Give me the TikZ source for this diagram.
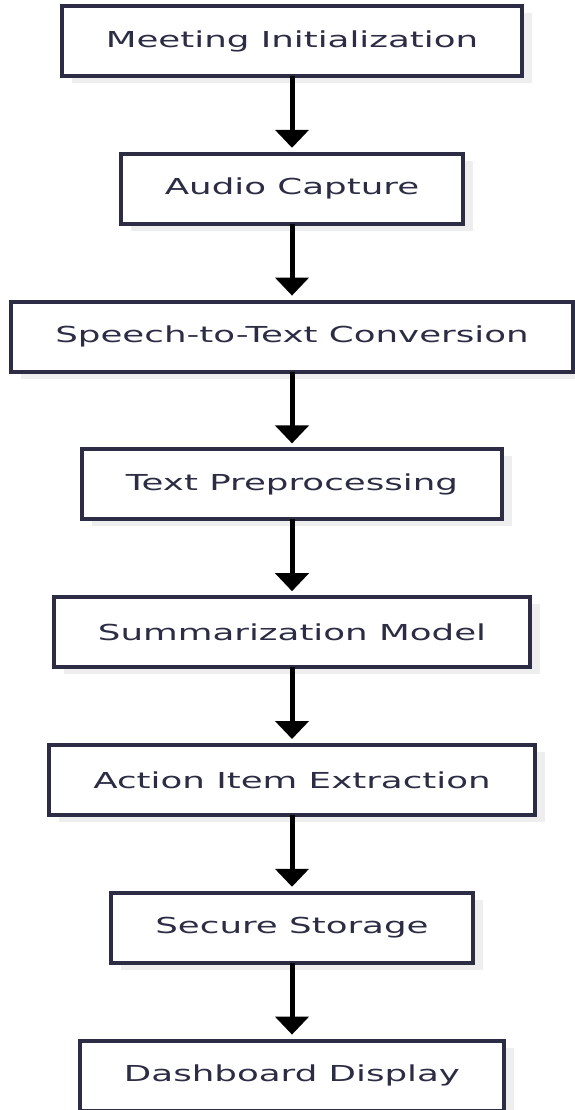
\documentclass[tikz,border=0pt]{standalone}
\usepackage{fontspec}
\usepackage{tikz}
\usetikzlibrary{positioning,arrows.meta,shadows}

\newfontfamily\boxfont[FakeStretch=1.62]{DejaVu Sans}
\definecolor{boxline}{HTML}{2C2C44}
\definecolor{boxtext}{HTML}{2C2C44}
\definecolor{shadowgray}{HTML}{EEEEEE}

\tikzset{
  stage/.style={draw=boxline, line width=4pt, fill=white, text=boxtext,
    font=\boxfont\fontsize{22pt}{26pt}\selectfont,
    minimum height=70pt, inner xsep=44pt, outer sep=0pt,
    drop shadow={shadow xshift=10pt, shadow yshift=-7pt, fill=shadowgray, opacity=1}},
  flow/.style={-{Triangle[width=33pt,length=18pt]}, line width=5pt, black, shorten >=6pt}
}

\begin{document}
\begin{tikzpicture}[x=1pt,y=1pt,node distance=77.8pt]
\useasboundingbox (0,0) rectangle (574,-1110);

% Pipeline stages
\node[stage] (init) at (292,-41) {Meeting Initialization};
\node[stage, below=of init] (capture) {Audio Capture};
\node[stage, below=of capture] (stt) {Speech-to-Text Conversion};
\node[stage, below=of stt] (prep) {Text Preprocessing};
\node[stage, below=of prep] (summ) {Summarization Model};
\node[stage, below=of summ] (extract) {Action Item Extraction};
\node[stage, below=of extract] (store) {Secure Storage};
\node[stage, below=of store] (dash) {Dashboard Display};

% Arrows
\foreach \a/\b in {init/capture, capture/stt, stt/prep, prep/summ,
                   summ/extract, extract/store, store/dash}
    \draw[flow] (\a) -- (\b);
\end{tikzpicture}
\end{document}
